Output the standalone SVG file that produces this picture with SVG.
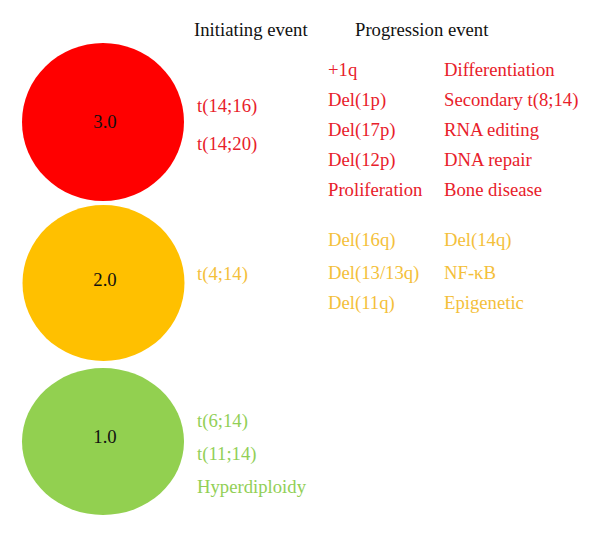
<svg xmlns="http://www.w3.org/2000/svg" width="600" height="537" viewBox="0 0 600 537">
<style>
text{font-family:"Liberation Serif","Times New Roman",serif;font-size:18.7px}
.h{fill:#111}
.n{fill:#111;text-anchor:middle}
.r{fill:#E8202A}
.o{fill:#F4C03A}
.g{fill:#92CF56}
</style>
<rect width="600" height="537" fill="#fff"/>
<g id="connectors"/>
<g id="headers">
<text class="h" x="194" y="36">Initiating event</text>
<text class="h" x="355" y="36">Progression event</text>
</g>
<g id="node-3">
<ellipse cx="103" cy="122" rx="81" ry="79" fill="#FF0000"/>
<text class="n" x="105" y="128">3.0</text>
</g>
<g id="node-2">
<ellipse cx="103.5" cy="283" rx="81" ry="78" fill="#FFC000"/>
<text class="n" x="105" y="286">2.0</text>
</g>
<g id="node-1">
<ellipse cx="103" cy="441.5" rx="81" ry="73.5" fill="#92D050"/>
<text class="n" x="105" y="443">1.0</text>
</g>
<g id="initiating">
<text class="r" x="197" y="112">t(14;16)</text>
<text class="r" x="197" y="150">t(14;20)</text>
<text class="o" x="197" y="280">t(4;14)</text>
<text class="g" x="197" y="427">t(6;14)</text>
<text class="g" x="197" y="460">t(11;14)</text>
<text class="g" x="197" y="493">Hyperdiploidy</text>
</g>
<g id="progression">
<text class="r" x="328" y="76">+1q</text>
<text class="r" x="328" y="106">Del(1p)</text>
<text class="r" x="328" y="136">Del(17p)</text>
<text class="r" x="328" y="166">Del(12p)</text>
<text class="r" x="328" y="196">Proliferation</text>
<text class="r" x="444" y="76">Differentiation</text>
<text class="r" x="444" y="106">Secondary t(8;14)</text>
<text class="r" x="444" y="136">RNA editing</text>
<text class="r" x="444" y="166">DNA repair</text>
<text class="r" x="444" y="196">Bone disease</text>
<text class="o" x="328" y="246">Del(16q)</text>
<text class="o" x="328" y="279">Del(13/13q)</text>
<text class="o" x="328" y="309">Del(11q)</text>
<text class="o" x="444" y="246">Del(14q)</text>
<text class="o" x="444" y="279">NF-κB</text>
<text class="o" x="444" y="309">Epigenetic</text>
</g>
</svg>
